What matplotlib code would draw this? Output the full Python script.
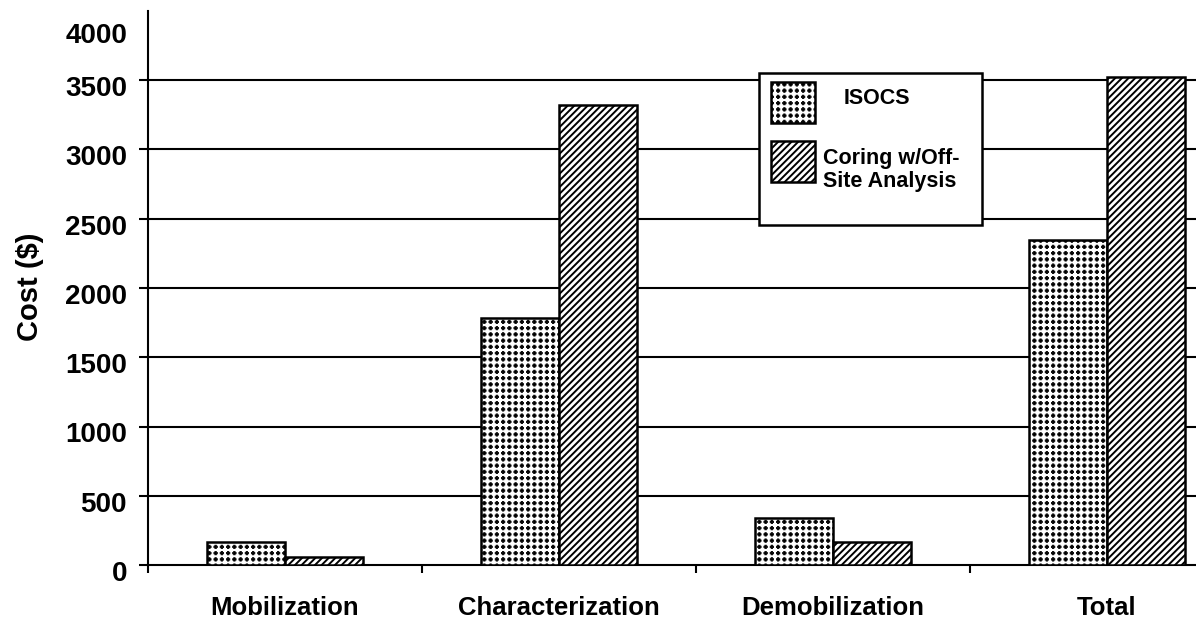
import warnings
warnings.filterwarnings("ignore")
import matplotlib
matplotlib.use("Agg")
import matplotlib.pyplot as plt
import matplotlib.hatch as mhatch
import matplotlib.transforms as mtrans
from matplotlib.path import Path
from matplotlib.patches import Rectangle
import numpy as np

categories = ["Mobilization", "Characterization", "Demobilization", "Total"]
isocs = [165, 1780, 340, 2350]
coring = [60, 3320, 165, 3520]
series_labels = ["ISOCS", "Coring w/Off-\nSite Analysis"]
yticks = [0, 500, 1000, 1500, 2000, 2500, 3000, 3500, 4000]


class PlusDots(mhatch.HatchPatternBase):
    """Square grid of small filled plus-shaped dots (hatch character 'd')."""
    def __init__(self, hatch, density):
        self.n = hatch.count('d') * 16
        a, b = 0.28, 0.12
        self.shape = np.array([(-b, a), (b, a), (b, b), (a, b), (a, -b), (b, -b),
                               (b, -a), (-b, -a), (-b, -b), (-a, -b), (-a, b), (-b, b)])
        self.k = len(self.shape) + 1
        self.num_vertices = self.n * self.n * self.k

    def set_vertices_and_codes(self, vertices, codes):
        n, k = self.n, self.k
        s = 1.0 / n
        idx = 0
        for i in range(n):
            for j in range(n):
                c = np.array([(i + 0.5) * s, (j + 0.5) * s])
                v = self.shape * s + c
                vertices[idx:idx + k - 1] = v
                vertices[idx + k - 1] = v[0]
                codes[idx] = Path.MOVETO
                codes[idx + 1:idx + k - 1] = Path.LINETO
                codes[idx + k - 1] = Path.CLOSEPOLY
                idx += k


mhatch._hatch_types.append(PlusDots)

plt.rcParams['font.family'] = ['Liberation Sans', 'DejaVu Sans']
plt.rcParams['font.weight'] = 'bold'

W, H = 1196, 620
fig = plt.figure(figsize=(W / 100, H / 100), dpi=100)

def fx(x):
    return x / W

def fy(y):
    return 1 - y / H

ax = fig.add_axes([fx(148), fy(565), 1096 / W, (565 - 11) / H])

x = np.arange(len(categories))
bw = 0.285
DOT = 'd'
DIAG = '/////'
DOT_LW = 0.5
DIAG_LW = 1.4

def set_hlw(patch, lw):
    try:
        patch.set_hatch_linewidth(lw)
    except Exception:
        pass

plt.rcParams['hatch.linewidth'] = DOT_LW
b1 = ax.bar(x - bw / 2, isocs, bw, facecolor='white', edgecolor='black',
            hatch=DOT, linewidth=1.8, zorder=3)
for p in b1:
    set_hlw(p, DOT_LW)
plt.rcParams['hatch.linewidth'] = DIAG_LW
b2 = ax.bar(x + bw / 2, coring, bw, facecolor='white', edgecolor='black',
            hatch=DIAG, linewidth=1.8, zorder=3)
for p in b2:
    set_hlw(p, DIAG_LW)

ax.set_xlim(-0.5, 3.5)
ax.set_ylim(0, 4000)
ax.set_yticks(yticks)
ax.set_yticklabels([str(v) for v in yticks])
for v in yticks[1:-1]:
    ax.axhline(v, color='black', linewidth=1.5, zorder=1)

ax.spines['top'].set_visible(False)
ax.spines['right'].set_visible(False)
ax.spines['left'].set_linewidth(1.5)
ax.spines['bottom'].set_linewidth(1.5)

ax.set_xticks(x)
ax.set_xticklabels(categories)
ax.set_xticks([-0.5, 0.5, 1.5, 2.5, 3.5], minor=True)
ax.tick_params(axis='x', which='major', length=0, pad=22, labelsize=18.5)
ax.tick_params(axis='x', which='minor', length=5.8, width=1.5, direction='out')
ax.tick_params(axis='y', length=6.5, width=1.5, direction='out', pad=8.6, labelsize=20)
for lab in ax.get_xticklabels() + ax.get_yticklabels():
    lab.set_fontweight('bold')

# y tick labels sit slightly below their ticks; the top one is pushed down further
for lab, v in zip(ax.get_yticklabels(), yticks):
    dy = -22 if v == yticks[-1] else -6
    lab.set_transform(lab.get_transform() +
                      mtrans.ScaledTranslation(0, dy / 100, fig.dpi_scale_trans))
ax.yaxis.get_major_ticks()[-1].tick1line.set_visible(False)

fig.text(fx(30), fy(287), "Cost ($)", rotation=90, ha='center', va='center',
         fontsize=21, fontweight='bold')

# legend
fig.patches.append(Rectangle((fx(759), fy(225)), (982 - 759) / W, (225 - 73) / H,
                             transform=fig.transFigure, facecolor='white',
                             edgecolor='black', linewidth=1.8, zorder=5))
plt.rcParams['hatch.linewidth'] = DOT_LW
r1 = Rectangle((fx(771), fy(123)), 44 / W, 41 / H, transform=fig.transFigure,
               facecolor='white', edgecolor='black', hatch=DOT, linewidth=1.8, zorder=6)
set_hlw(r1, DOT_LW)
fig.patches.append(r1)
plt.rcParams['hatch.linewidth'] = DIAG_LW
r2 = Rectangle((fx(771), fy(182)), 44 / W, 41 / H, transform=fig.transFigure,
               facecolor='white', edgecolor='black', hatch=DIAG, linewidth=1.8, zorder=6)
set_hlw(r2, DIAG_LW)
fig.patches.append(r2)
fig.text(fx(844), fy(99), series_labels[0], ha='left', va='center',
         fontsize=15.5, fontweight='bold', zorder=7)
fig.text(fx(823), fy(170), series_labels[1], ha='left', va='center',
         fontsize=15.5, fontweight='bold', linespacing=1.12, zorder=7)

fig.savefig("out.png", dpi=100)
